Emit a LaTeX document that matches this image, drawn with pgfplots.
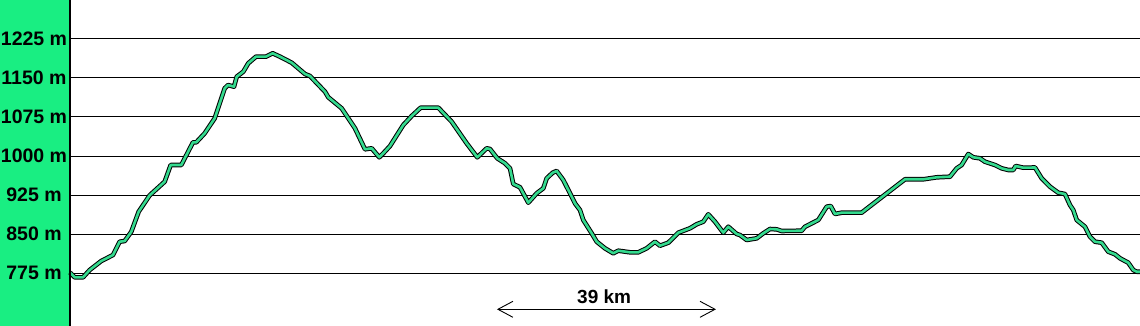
\documentclass[border=0pt]{standalone}
\usepackage{fontspec}
\setmainfont{Liberation Sans}
\usepackage{pgfplots}
\usepackage{pgfplotstable}
\pgfplotsset{compat=1.18}
\usetikzlibrary{arrows.meta}
\definecolor{bandgreen}{RGB}{25,238,130}
\definecolor{linegreen}{RGB}{52,218,142}
\pgfplotstableread{
km elev
0.00 776.0
0.84 766.7
2.32 766.7
3.51 780.8
5.57 798.1
7.66 809.6
8.85 835.2
9.74 836.5
10.92 854.4
12.23 892.9
14.19 924.4
16.86 950.6
17.93 982.7
19.82 982.7
21.90 1026.3
22.49 1026.3
23.99 1043.7
25.77 1072.5
27.55 1130.2
28.14 1136.5
29.21 1133.3
29.69 1152.5
30.86 1162.1
31.75 1178.3
33.12 1191.0
34.90 1191.0
36.10 1197.5
37.40 1191.0
39.48 1179.4
41.85 1157.7
42.74 1153.8
45.41 1123.7
46.00 1112.9
48.38 1091.7
50.75 1053.3
52.53 1012.9
53.73 1014.8
55.08 997.5
55.79 1005.2
56.99 1019.2
59.35 1059.6
60.85 1076.9
62.45 1092.9
65.59 1092.9
67.97 1066.0
70.64 1024.4
72.53 997.5
74.21 1014.8
74.79 1013.5
76.09 995.6
77.47 986.0
78.36 976.3
78.94 946.2
80.14 939.8
81.62 910.2
83.11 928.3
84.29 937.9
84.89 957.1
85.96 967.9
86.67 971.2
87.85 953.8
89.04 928.3
89.93 909.0
90.82 896.2
91.41 876.9
92.91 851.3
93.80 835.2
95.27 822.5
96.75 812.9
97.64 817.9
99.73 814.8
101.20 814.8
102.70 822.5
104.18 835.2
105.07 827.5
106.55 833.3
108.33 852.5
110.41 861.0
111.60 868.7
112.78 873.7
113.67 887.9
114.86 873.7
116.34 852.5
117.23 864.0
118.73 850.0
119.31 848.1
120.51 838.5
122.29 841.7
123.46 851.3
124.66 859.6
125.85 859.0
126.74 855.8
130.30 856.3
130.89 864.0
133.26 876.9
134.76 902.5
135.47 903.8
136.23 888.5
137.43 891.0
140.97 891.0
148.70 955.2
151.96 955.2
154.34 959.0
156.71 960.2
157.90 976.3
158.79 982.7
159.97 1003.8
160.86 997.5
162.05 995.6
162.94 989.0
164.72 982.7
165.92 976.3
167.09 973.1
167.98 973.1
168.41 980.8
169.76 977.5
171.85 977.9
173.04 957.1
174.52 941.0
176.00 929.4
177.19 926.9
178.08 905.8
178.67 896.2
179.28 876.9
180.75 864.0
181.64 844.8
182.53 835.2
183.73 833.3
184.90 816.0
186.10 811.0
186.99 803.3
188.46 794.8
189.35 780.8
189.96 777.5
190.55 777.5
}\profile
\begin{document}
\begin{tikzpicture}
\useasboundingbox (0pt,0pt) rectangle (1140pt,326pt);
\fill[bandgreen] (0pt,0pt) rectangle (70pt,326pt);
\begin{axis}[
  at={(70pt,0pt)}, anchor=south west,
  scale only axis, width=1070pt, height=326pt,
  xmin=0, xmax=190.55, ymin=673.1, ymax=1300,
  xtick=\empty,
  ytick={775,850,925,1000,1075,1150,1225},
  ymajorgrids, grid style={black, line width=1pt},
  major tick length=0pt,
  axis line style={draw=none},
  yticklabel={\pgfmathprintnumber[assume math mode=true,1000 sep={},fixed,precision=0]{\tick}~m},
  yticklabel style={anchor=center, xshift=-36pt, font=\bfseries\fontsize{19.5}{19.5}\selectfont, inner sep=0pt},
  clip=false,
]
\addplot[black, line width=4.6pt, line join=round] table[x=km, y=elev] {\profile};
\addplot[linegreen, line width=2.6pt, line join=round] table[x=km, y=elev] {\profile};
\draw[black, line width=1.8pt] (rel axis cs:0,0) -- (rel axis cs:0,1);
\draw[black, line width=0.9pt, {Straight Barb[length=15pt,width=16pt]}-{Straight Barb[length=15pt,width=16pt]}] (axis cs:76.04,705.2) -- (axis cs:115.04,705.2);
\node[font=\bfseries\fontsize{19}{19}\selectfont] at (axis cs:95.13,729.4) {39 km};
\end{axis}
\end{tikzpicture}
\end{document}
